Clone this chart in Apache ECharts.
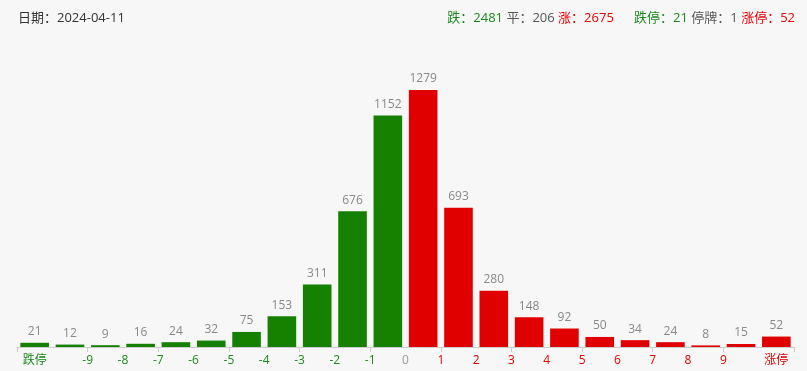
<!DOCTYPE html>
<html><head><meta charset="utf-8">
<script src="https://cdn.jsdelivr.net/npm/echarts@6/dist/echarts.min.js"></script>
<style>html,body{margin:0;padding:0;background:#f7f7f7}#c{width:807px;height:371px}</style>
</head><body><div id="c"></div>
<script>
const categories = ["跌停","-10~-9","-9~-8","-8~-7","-7~-6","-6~-5","-5~-4","-4~-3","-3~-2","-2~-1","-1~0","0~1","1~2","2~3","3~4","4~5","5~6","6~7","7~8","8~9","9~10","涨停"];
const counts = [21,12,9,16,24,32,75,153,311,676,1152,1279,693,280,148,92,50,34,24,8,15,52];
const tickLabels = {"0.5":"跌停","2":"-9","3":"-8","4":"-7","5":"-6","6":"-5","7":"-4","8":"-3","9":"-2","10":"-1","11":"0","12":"1","13":"2","14":"3","15":"4","16":"5","17":"6","18":"7","19":"8","20":"9","21.5":"涨停"};
const dateText = "2024-04-11";
const summary = {down:2481, flat:206, up:2675, limitDown:21, suspended:1, limitUp:52};

const GREEN = "#168000", RED = "#e00000";
const FONT = "'Open Sans', 'Noto Sans CJK SC', sans-serif";
const chart = echarts.init(document.getElementById('c'));
chart.setOption({
  backgroundColor: "#f7f7f7",
  textStyle: {fontFamily: FONT},
  title: [
    {text: "日期：" + dateText, left: 13, top: 7, textStyle: {fontSize: 13, fontWeight: "normal", color: "#333", fontFamily: FONT}},
    {text: "{g|跌：" + summary.down + "} {n|平：" + summary.flat + "} {r|涨：" + summary.up + "}      {g|跌停：" + summary.limitDown + "} {n|停牌：" + summary.suspended + "} {r|涨停：" + summary.limitUp + "}",
     right: 7, top: 7,
     textStyle: {fontSize: 13, fontWeight: "normal", fontFamily: FONT,
       rich: {g:{color:"#1a8a1a",fontSize:13,fontFamily:FONT}, n:{color:"#555",fontSize:13,fontFamily:FONT}, r:{color:"#e60000",fontSize:13,fontFamily:FONT}}}}
  ],
  grid: {left: 17, right: 13, top: 90, bottom: 24},
  xAxis: [
    {type: "category", data: categories, axisLabel: {show: false},
     axisLine: {lineStyle: {color: "#ccc"}}, axisTick: {show: true, length: 5, lineStyle: {color: "#ccc"}}},
    {type: "value", min: 0, max: 22, interval: 0.5, position: "bottom", axisLine: {show: false}, axisTick: {show: false}, splitLine: {show: false},
     axisLabel: {margin: 8, fontSize: 12, fontFamily: FONT, showMinLabel: true, showMaxLabel: true,
       formatter: function (v) {
         const t = tickLabels[String(v)];
         if (!t) return "";
         let style = "g";
         if (v === 11) style = "n"; else if (v > 11) style = "r";
         return "{" + style + "|" + t + "}";
       },
       rich: {g:{color:"#1a8a1a",fontSize:12,fontFamily:FONT}, n:{color:"#999",fontSize:12,fontFamily:FONT}, r:{color:"#e60000",fontSize:12,fontFamily:FONT}}}}
  ],
  yAxis: {type: "value", min: 0, max: "dataMax", show: false},
  series: [{
    type: "bar", xAxisIndex: 0, barCategoryGap: "19%",
    data: counts,
    itemStyle: {color: function (p) { return p.dataIndex < 11 ? GREEN : RED; }},
    label: {show: true, position: "top", distance: 5, color: "#888", fontSize: 12, fontFamily: FONT}
  }]
});
</script></body></html>
